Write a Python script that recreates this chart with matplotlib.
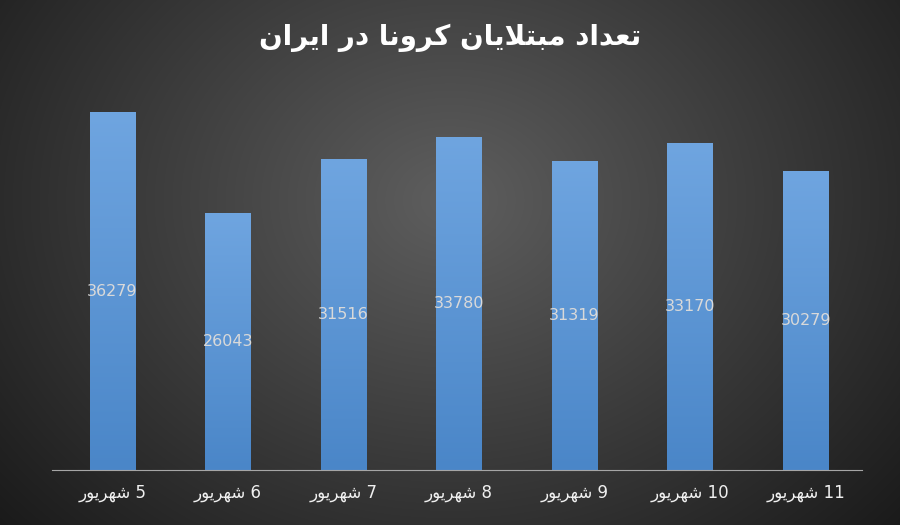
import numpy as np
import matplotlib
matplotlib.use('Agg')
import matplotlib.pyplot as plt

days = [5, 6, 7, 8, 9, 10, 11]
cases = [36279, 26043, 31516, 33780, 31319, 33170, 30279]

# Arabic presentation forms written in logical order, reversed for display (no shaping in matplotlib)
month = '\uFEB7\uFEEC\uFEAE\uFEF3\uFEEE\uFEAD'  # شهریور
title_words = [
    '\uFE97\uFECC\uFEAA\uFE8D\uFEA9',                       # تعداد
    '\uFEE3\uFE92\uFE98\uFEFC\uFEF3\uFE8E\uFEE5',           # مبتلایان
    '\uFEDB\uFEAE\uFEED\uFEE7\uFE8E',                       # کرونا
    '\uFEA9\uFEAD',                                         # در
    '\uFE8D\uFEF3\uFEAE\uFE8D\uFEE5',                       # ایران
]
title = ' '.join(title_words)[::-1]
labels = [month[::-1] + ' ' + str(d) for d in days]

fig = plt.figure(figsize=(9, 5.25), dpi=100)

# radial gradient background
bg = fig.add_axes([0, 0, 1, 1])
yy, xx = np.mgrid[0:525, 0:900]
r = np.sqrt(((xx - 450) / 520) ** 2 + ((yy - 200) / 420) ** 2)
shade = np.clip(0.37 - 0.23 * r, 0.1, 0.4)
bg.imshow(np.dstack([shade] * 3), aspect='auto')
bg.axis('off')

ax = fig.add_axes([0.058, 0.105, 0.9, 0.745])
ax.patch.set_alpha(0)
x = np.arange(len(days))
w = 0.39
for xi, v in zip(x, cases):
    grad = np.linspace(0, 1, 256).reshape(-1, 1)
    ax.imshow(grad, cmap=matplotlib.colors.LinearSegmentedColormap.from_list(
        'b', ['#4a86c8', '#6fa5e0']), extent=[xi - w / 2, xi + w / 2, 0, v],
        origin='lower', aspect='auto', zorder=2)
    ax.text(xi, v / 2, str(v), ha='center', va='center', color='#d9d9d9',
            fontsize=11.5, zorder=3)
ax.set_xlim(-0.52, 6.49)
ax.set_ylim(0, 39730)
ax.set_xticks(x)
ax.set_xticklabels(labels, color='#f0f0f0', fontsize=12, family='DejaVu Sans')
ax.tick_params(axis='x', length=0, pad=10)
ax.set_yticks([])
for s in ['top', 'right', 'left']:
    ax.spines[s].set_visible(False)
ax.spines['bottom'].set_color('#a6a6a6')

fig.text(0.5, 0.928, title, ha='center', va='center', color='white',
         fontsize=20, fontweight='bold', family='DejaVu Sans')

fig.savefig('out.png', dpi=100)
